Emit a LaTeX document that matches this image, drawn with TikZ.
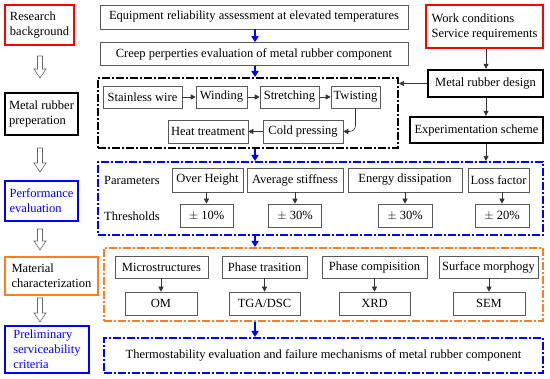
\documentclass[tikz,border=0pt]{standalone}
\usepackage{fontspec}
\setmainfont{Liberation Serif}
\usetikzlibrary{arrows.meta,calc}
\definecolor{orng}{RGB}{255,125,30}
\definecolor{bl}{RGB}{0,0,255}
\newcommand\hollowarr[2]{%
  \draw[hollow] ($(#1)+(-2.5,0)$) -- ($(#2)+(-2.5,-9)$) -- ($(#2)+(-6,-9)$) -- (#2)
    -- ($(#2)+(6,-9)$) -- ($(#2)+(2.5,-9)$) -- ($(#1)+(2.5,0)$) -- cycle;}
\begin{document}
\begin{tikzpicture}[x=1pt,y=-1pt,font=\fontsize{12.5}{15}\selectfont,
  sz/.style 2 args={minimum width=#1,minimum height=#2},
  base/.style={rectangle,inner sep=1pt,align=center},
  thinbox/.style={base,draw=black!65,line width=0.6pt},
  thickbox/.style={base,draw=black,line width=2.3pt},
  redbox/.style={base,draw=red,line width=1.8pt,align=left},
  bluebox/.style={base,draw=bl,line width=1.8pt,text=bl,align=left},
  orbox/.style={base,draw=orng,line width=1.8pt,align=left},
  dd/.style={line width=2pt,dash pattern=on 8pt off 2pt on 2pt off 2pt},
  arr/.style={-{Triangle[length=5pt,width=5pt]},line width=0.6pt,draw=black!80},
  barr/.style={-{Triangle[length=6pt,width=7pt]},line width=1.8pt,draw=bl},
  hollow/.style={draw=black!60,line width=0.6pt,fill=white}]
\useasboundingbox (0,0) rectangle (550,379);

% left column
\node[redbox,sz={69}{40}] (rb) at (39.5,25) {Research\\background};
\node[thickbox,sz={73}{42},align=left] (mrp) at (41.5,114) {Metal rubber\\preperation};
\node[bluebox,sz={73}{40}] (pe) at (41.5,201) {Performance\\evaluation};
\node[orbox,sz={93}{38}] (mc) at (51.5,276) {Material\\characterization};
\node[bluebox,sz={84}{47}] (psc) at (47,349.5) {Preliminary\\serviceability\\criteria};

\coordinate (h1a) at (40,56);  \coordinate (h1b) at (40,78);
\coordinate (h2a) at (40,148); \coordinate (h2b) at (40,172);
\coordinate (h3a) at (40,229); \coordinate (h3b) at (40,250);
\coordinate (h4a) at (40,298); \coordinate (h4b) at (40,322);
\hollowarr{h1a}{h1b}
\hollowarr{h2a}{h2b}
\hollowarr{h3a}{h3b}
\hollowarr{h4a}{h4b}

% main column top
\node[thinbox,sz={308}{24}] (era) at (254,17) {Equipment reliability assessment at elevated temperatures};
\node[thinbox,sz={308}{23}] (cpe) at (254,54) {Creep perperties evaluation of metal rubber component};

% preparation block
\node[draw=black,dd,sz={300}{70}] (bb) at (248,113) {};
\node[thinbox,sz={79}{22}] (sw) at (142.5,97) {Stainless wire};
\node[thinbox,sz={51}{22}] (wd) at (221.5,97) {Winding};
\node[thinbox,sz={59}{22}] (st) at (289.5,97) {Stretching};
\node[thinbox,sz={49}{22}] (tw) at (355.5,97) {Twisting};
\node[thinbox,sz={80}{23}] (ht) at (208,131.5) {Heat treatment};
\node[thinbox,sz={80}{23}] (cp) at (303,131.5) {Cold pressing};
\draw[arr] (sw) -- (wd);
\draw[arr] (wd) -- (st);
\draw[arr] (st) -- (tw);
\draw[arr,rounded corners=6pt] (tw.south) |- (cp.east);
\draw[arr] (cp) -- (ht);

% right column
\node[redbox,sz={117}{43}] (wc) at (484.5,26.5) {Work conditions\\Service requirements};
\node[thickbox,sz={115}{27}] (mrd) at (485.5,83.5) {Metal rubber design};
\node[thickbox,sz={133}{26}] (es) at (476.5,130) {Experimentation scheme};
\coordinate (rx) at (486,0);
\draw[arr] (wc.south -| rx) -- (mrd.north -| rx);
\draw[arr] (mrd.south -| rx) -- (es.north -| rx);
\draw[arr] (mrd.west) -- (bb.east |- mrd.west);

% performance block
\node[draw=bl,dd,sz={445}{73}] (pb) at (320.5,198.5) {};
\draw[arr] (es.south -| rx) -- (pb.north -| rx);
\node[anchor=west,inner sep=0pt] (par) at (104,180) {Parameters};
\node[anchor=west,inner sep=0pt] (thr) at (104,216) {Thresholds};
\node[thinbox,sz={71}{24}] (oh) at (207.5,180) {Over Height};
\node[thinbox,sz={96}{24}] (as) at (295,180) {Average stiffness};
\node[thinbox,sz={114}{24}] (ed) at (405,180) {Energy dissipation};
\node[thinbox,sz={61}{24}] (lf) at (498.5,180) {Loss factor};
\node[thinbox,sz={53}{23}] (t1) at (206.5,215.5) {$\pm$ 10\%};
\node[thinbox,sz={53}{23}] (t2) at (295,215.5) {$\pm$ 30\%};
\node[thinbox,sz={54}{23}] (t3) at (405,215.5) {$\pm$ 30\%};
\node[thinbox,sz={54}{23}] (t4) at (502,215.5) {$\pm$ 20\%};
\draw[arr] (t1.north |- oh.south) -- (t1.north);
\draw[arr] (t2.north |- as.south) -- (t2.north);
\draw[arr] (t3.north |- ed.south) -- (t3.north);
\draw[arr] (t4.north |- lf.south) -- (t4.north);

% characterization block
\node[draw=orng,dd,sz={439}{73}] (ob) at (323.5,284.5) {};
\node[thinbox,sz={93}{22}] (ms) at (161.5,267) {Microstructures};
\node[thinbox,sz={85}{22}] (ptr) at (264.5,267) {Phase trasition};
\node[thinbox,sz={105}{22}] (pc) at (374.5,267) {Phase compisition};
\node[thinbox,sz={99}{22}] (sm) at (488.5,267) {Surface morphogy};
\node[thinbox,sz={72}{23}] (om) at (161,303.5) {OM};
\node[thinbox,sz={71}{23}] (tga) at (264.5,303.5) {TGA/DSC};
\node[thinbox,sz={71}{23}] (xrd) at (374.5,303.5) {XRD};
\node[thinbox,sz={72}{23}] (sem) at (489,303.5) {SEM};
\draw[arr] (om.north |- ms.south) -- (om.north);
\draw[arr] (tga.north |- ptr.south) -- (tga.north);
\draw[arr] (xrd.north |- pc.south) -- (xrd.north);
\draw[arr] (sem.north |- sm.south) -- (sem.north);

% final block
\node[draw=bl,dd,sz={439}{35}] (fb) at (323.5,355.5) {Thermostability evaluation and failure mechanisms of metal rubber component};

% blue main arrows
\coordinate (mx) at (255,0);
\draw[barr] (era.south -| mx) -- (cpe.north -| mx);
\draw[barr] (cpe.south -| mx) -- (bb.north -| mx);
\draw[barr] (bb.south -| mx) -- (pb.north -| mx);
\draw[barr] (pb.south -| mx) -- (ob.north -| mx);
\draw[barr] (ob.south -| mx) -- (fb.north -| mx);
\end{tikzpicture}
\end{document}
